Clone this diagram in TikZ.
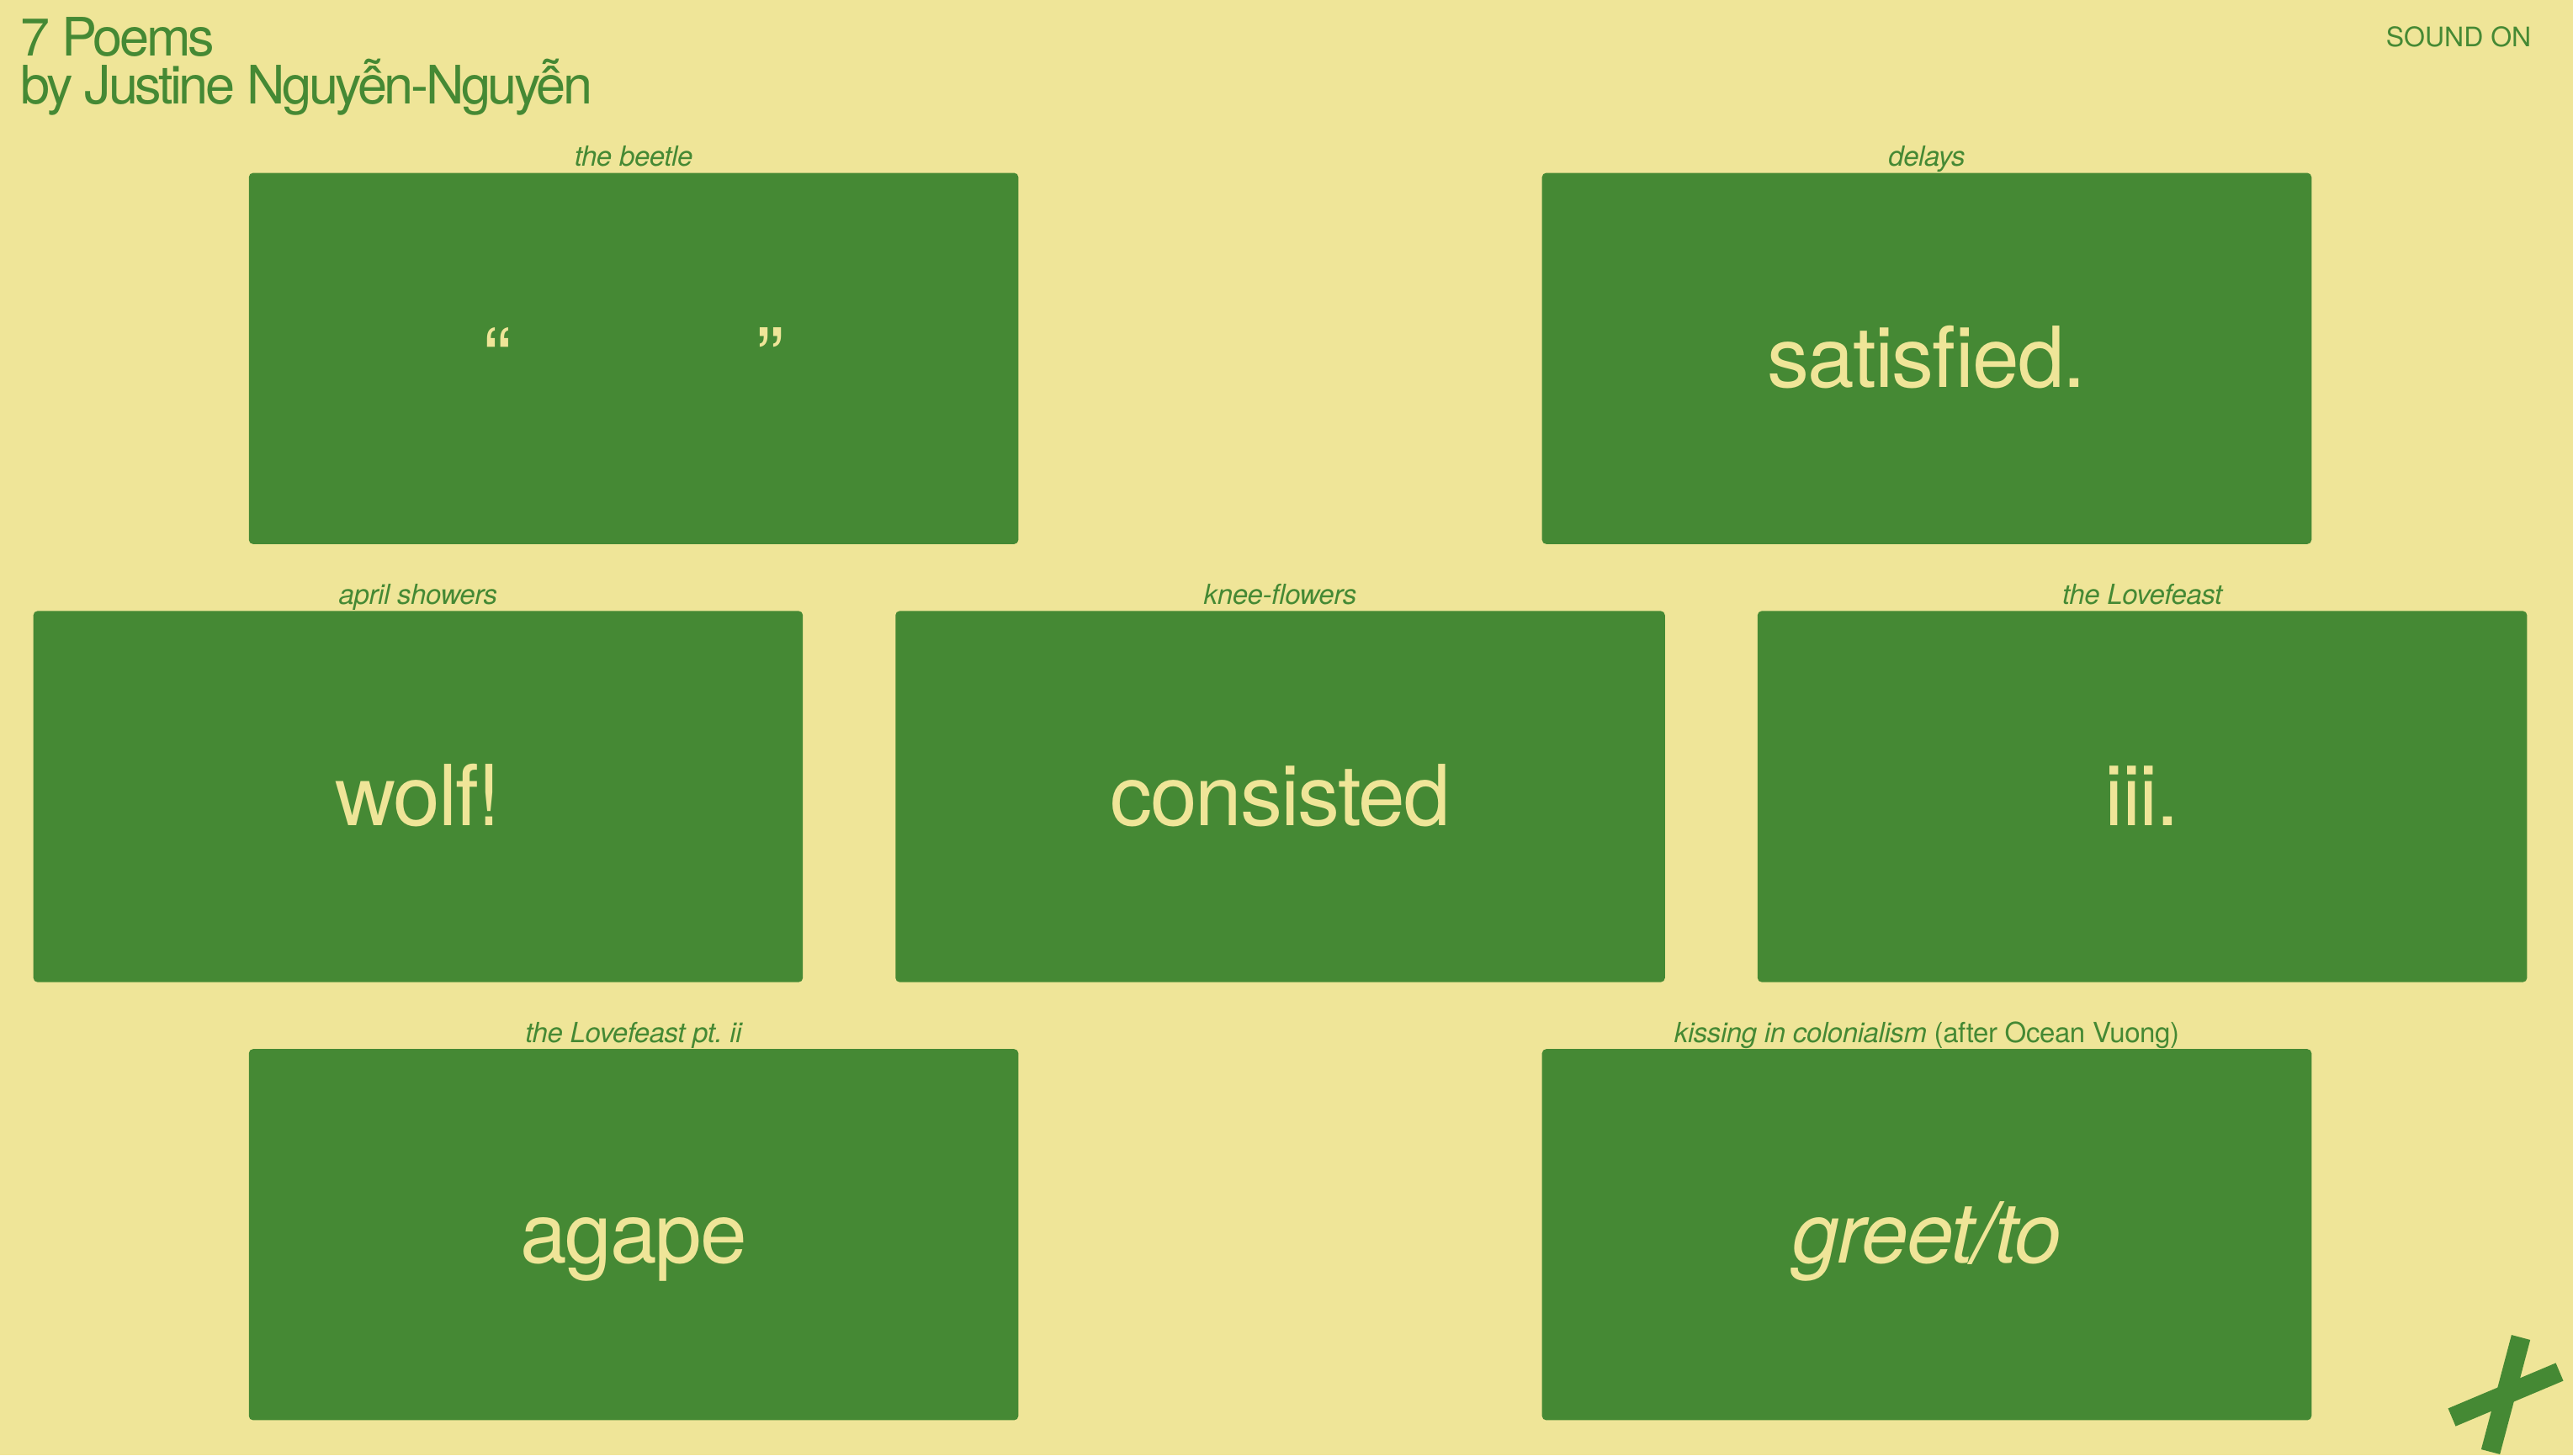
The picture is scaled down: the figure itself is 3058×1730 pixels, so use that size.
\documentclass[tikz,border=0pt]{standalone}
\usepackage{fontspec}
\setmainfont{TeX Gyre Heros}
\newfontfamily\headfont{TeX Gyre Heros}[LetterSpace=-5.5]
\newfontfamily\wordfont{TeX Gyre Heros}[LetterSpace=-2]
\newfontfamily\captionfont{TeX Gyre Heros}[LetterSpace=-1.3]
\usetikzlibrary{positioning}
\frenchspacing

\definecolor{khaki}{RGB}{239,229,152}
\definecolor{leaf}{RGB}{69,137,52}

\tikzset{
  card/.style={rectangle, fill=leaf, rounded corners=0.05cm, minimum width=9.14cm, minimum height=4.41cm, inner sep=0pt, text=khaki, text height=0.88cm, text depth=0.2cm, font=\wordfont\fontsize{28.45}{34}\selectfont},
  caption/.style={anchor=base, text=leaf, inner sep=0pt, font=\captionfont\fontsize{9.39}{11}\selectfont\itshape},
  heading/.style={anchor=base west, text=leaf, inner sep=0pt, font=\headfont\fontsize{17.93}{16.2}\selectfont},
}

\begin{document}
\begin{tikzpicture}[x=0.01cm, y=-0.01cm, node distance=5.205cm and 10.24cm, on grid]

  \fill[khaki] (0,0) rectangle (3058,1730);
  \useasboundingbox (0,0) rectangle (3058,1730);

  \node[heading] (title) at (24,66) {7 Poems};
  \node[heading] (byline) at ([yshift=-0.57cm]title.base west) {by Justine Nguyễn-Nguyễn};
  \node[anchor=base east, text=leaf, inner sep=0pt, font=\fontsize{9.1}{11}\selectfont] (sound) at (3009,55) {SOUND ON};

  \node[card] (consisted) at (1521.5,947) {consisted};
  \node[card] (wolf) [left=of consisted] {wolf!};
  \node[card] (lovefeast) [right=of consisted] {iii.};
  \node[card, xshift=2.56cm] (beetle) [above=of wolf] {“\hspace{2.9cm}”};
  \node[card, xshift=-2.56cm] (delays) [above=of lovefeast] {satisfied.};
  \node[card, xshift=2.56cm] (agape) [below=of wolf] {agape};
  \node[card, xshift=-2.56cm] (greet) [below=of lovefeast] {\itshape greet/to};

  \node[caption] (beetle title) at ([yshift=0.07cm]beetle.north) {the beetle};
  \node[caption] (delays title) at ([yshift=0.07cm]delays.north) {delays};
  \node[caption] (wolf title) at ([yshift=0.07cm]wolf.north) {april showers};
  \node[caption] (consisted title) at ([yshift=0.07cm]consisted.north) {knee-flowers};
  \node[caption] (lovefeast title) at ([yshift=0.07cm]lovefeast.north) {the Lovefeast};
  \node[caption] (agape title) at ([yshift=0.07cm]agape.north) {the Lovefeast pt. ii};
  \node[caption] (greet title) at ([yshift=0.07cm]greet.north) {kissing in colonialism {\upshape(after Ocean Vuong)}};

  \coordinate (cross a) at (2996,1590);
  \coordinate (cross b) at (2960,1726);
  \coordinate (cross c) at (2914,1685);
  \coordinate (cross d) at (3042,1631);
  \draw[leaf, line width=0.23cm] (cross a) -- (cross b);
  \draw[leaf, line width=0.23cm] (cross c) -- (cross d);

\end{tikzpicture}
\end{document}
